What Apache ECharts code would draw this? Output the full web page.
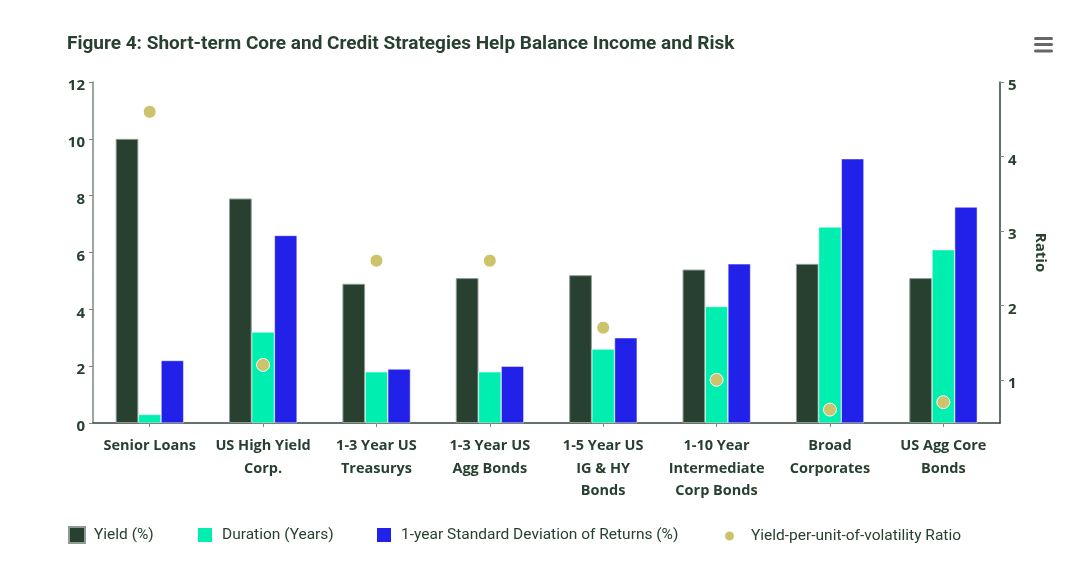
<!DOCTYPE html>
<html><head><meta charset="utf-8">
<script src="https://cdn.jsdelivr.net/npm/echarts@6/dist/echarts.min.js"></script>
<style>html,body{margin:0;padding:0;background:#fff}#c{width:1080px;height:567px}</style>
</head><body><div id="c"></div>
<script>
const categories = ['Senior Loans', 'US High Yield\nCorp.', '1-3 Year US\nTreasurys', '1-3 Year US\nAgg Bonds', '1-5 Year US\nIG & HY\nBonds', '1-10 Year\nIntermediate\nCorp Bonds', 'Broad\nCorporates', 'US Agg Core\nBonds'];
const yieldPct = [10.0, 7.9, 4.9, 5.1, 5.2, 5.4, 5.6, 5.1];
const durationYears = [0.3, 3.2, 1.8, 1.8, 2.6, 4.1, 6.9, 6.1];
const stdDev = [2.2, 6.6, 1.9, 2.0, 3.0, 5.6, 9.3, 7.6];
const ratio = [4.6, 1.2, 2.6, 2.6, 1.7, 1.0, 0.6, 0.7];
const leftTicks = [0, 2, 4, 6, 8, 10, 12];
const rightTicks = [1, 2, 3, 4, 5];

const dark = '#27402f';
const font = 'Roboto';
const chart = echarts.init(document.getElementById('c'), null, {renderer: 'canvas'});
const legendBase = {top: 521, itemWidth: 16, itemHeight: 16, itemGap: 0,
  textStyle: {fontFamily: font, fontSize: 15.5, color: dark, padding: [0, 0, 0, 4]}};
const tickRich = {t: {fontFamily: 'Open Sans', fontWeight: 'bold', fontSize: 15, color: dark, padding: [8, 0, 0, 0]}};
const tickFmt = v => '{t|' + v + '}';
chart.setOption({
  animation: false,
  title: {text: 'Figure 4: Short-term Core and Credit Strategies Help Balance Income and Risk',
    left: 62, top: 30, textStyle: {fontFamily: font, fontWeight: 'bold', fontSize: 19, color: dark}},
  graphic: [
    {type: 'rect', shape: {x: 1034, y: 37, width: 19, height: 3, r: 1.5}, style: {fill: '#666'}},
    {type: 'rect', shape: {x: 1034, y: 43, width: 19, height: 3, r: 1.5}, style: {fill: '#666'}},
    {type: 'rect', shape: {x: 1034, y: 49.5, width: 19, height: 3, r: 1.5}, style: {fill: '#666'}}
  ],
  legend: [
    Object.assign({}, legendBase, {left: 63, data: [{name: 'Yield (%)', icon: 'rect'}]}),
    Object.assign({}, legendBase, {left: 191, data: [{name: 'Duration (Years)', icon: 'rect'}]}),
    Object.assign({}, legendBase, {left: 370, data: [{name: '1-year Standard Deviation of Returns (%)', icon: 'rect'}]}),
    Object.assign({}, legendBase, {left: 718, itemWidth: 11, itemHeight: 11, top: 523,
      textStyle: {fontFamily: font, fontSize: 15.5, color: dark, padding: [0, 0, 0, 11]},
      data: [{name: 'Yield-per-unit-of-volatility Ratio', icon: 'circle'}]})
  ],
  grid: {left: 93, right: 80, top: 82, bottom: 144},
  xAxis: {type: 'category', data: categories,
    axisLine: {lineStyle: {color: '#2f4438', width: 1.5}},
    axisTick: {show: true, alignWithLabel: true, length: 4, lineStyle: {color: '#7d8a83'}},
    axisLabel: {interval: 0, fontFamily: 'Open Sans', fontWeight: 'bold', fontSize: 14.5, color: dark, lineHeight: 22.5, margin: 12}},
  yAxis: [
    {type: 'value', min: 0, max: 12, interval: 2,
      axisLine: {show: true, lineStyle: {color: '#7d8a83', width: 1.5}},
      axisTick: {show: true, length: 4, lineStyle: {color: '#7d8a83'}},
      splitLine: {show: false},
      axisLabel: {margin: 8, formatter: tickFmt, rich: tickRich, customValues: leftTicks}},
    {type: 'value', min: 0.42, max: 5, position: 'right',
      name: 'Ratio', nameLocation: 'middle', nameRotate: -90, nameGap: 33,
      nameTextStyle: {fontFamily: 'Open Sans', fontWeight: 'bold', fontSize: 15, color: dark},
      axisLine: {show: true, lineStyle: {color: '#2f4438', width: 1.5}},
      axisTick: {show: true, length: 4, customValues: rightTicks, lineStyle: {color: '#7d8a83'}},
      splitLine: {show: false},
      axisLabel: {margin: 8, formatter: tickFmt, rich: tickRich, customValues: rightTicks}}
  ],
  series: [
    {name: 'Yield (%)', type: 'bar', data: yieldPct, barGap: '0%', barCategoryGap: '40%',
      itemStyle: {color: dark, borderColor: '#8e9c94', borderWidth: 1}},
    {name: 'Duration (Years)', type: 'bar', data: durationYears,
      itemStyle: {color: '#00efb0', borderColor: '#ffffff', borderWidth: 0.5}},
    {name: '1-year Standard Deviation of Returns (%)', type: 'bar', data: stdDev,
      itemStyle: {color: '#2121e9', borderColor: '#ffffff', borderWidth: 0.5}},
    {name: 'Yield-per-unit-of-volatility Ratio', type: 'scatter', yAxisIndex: 1, data: ratio,
      symbolSize: 13, z: 5, itemStyle: {color: '#cdc36b', borderColor: '#ffffff', borderWidth: 1, opacity: 1}}
  ]
});
</script></body></html>
